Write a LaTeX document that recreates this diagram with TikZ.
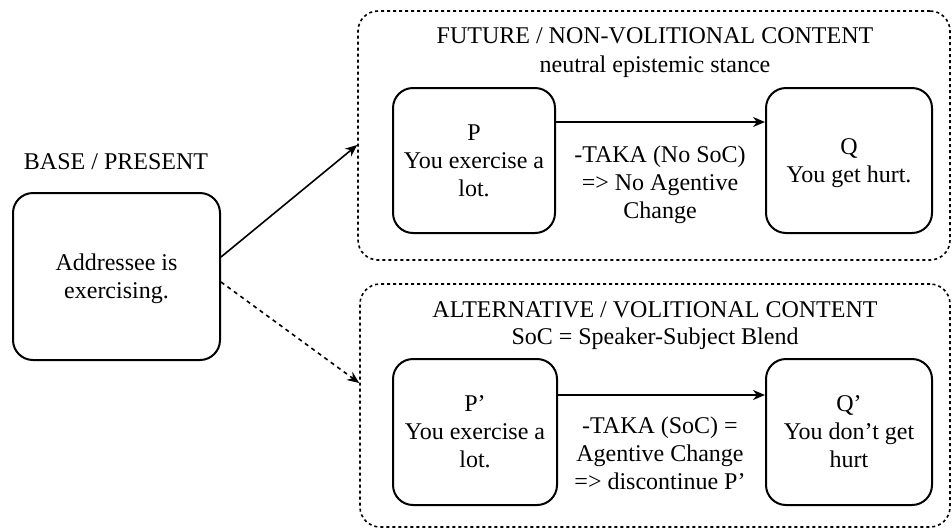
\documentclass[tikz,border=0pt]{standalone}
\usepackage{fontspec}
\setmainfont{Liberation Serif}
\usetikzlibrary{arrows.meta,positioning,backgrounds}

\begin{document}
\begin{tikzpicture}[x=0.5pt,y=-0.5pt]
    \tikzstyle{statebox}=[rectangle,rounded corners=10pt,draw,line width=1pt,%
    align=center,inner sep=2pt,text depth=-3pt,minimum height=72.5pt] %
    \tikzstyle{region}=[rectangle,rounded corners=10pt,draw,line width=0.8pt,%
    dash pattern=on 1.5pt off 1.5pt] %
    \tikzstyle{txt}=[align=center,inner sep=0pt,anchor=base] %
    \tikzstyle{flow}=[-{Stealth[length=6pt,width=5pt]},line width=0.8pt] %
    \tikzset{every node/.style={font=\fontsize{12}{14}\selectfont}}

    \useasboundingbox (0,0) rectangle (952,531);

    %% Base
    \node[statebox,minimum width=103.5pt,minimum height=83.5pt] (BASE) at (116.5,276.5)
        {Addressee is\\exercising.};
    \node[txt] (BASEL) at (116,169) {BASE / PRESENT};

    %% Future / non-volitional
    \node[region,minimum width=296pt,minimum height=124.5pt] (FUT) at (654,135.5) {};
    \node[txt] (FUTT) at (655,43) {FUTURE / NON-VOLITIONAL CONTENT};
    \node[txt] (FUTS) at (655,72) {neutral epistemic stance};
    \node[statebox,minimum width=81pt] (P) at (474,160.5) {P\\You exercise a\\lot.};
    \node[statebox,minimum width=83pt] (Q) at (849,160.5) {Q\\You get hurt.};
    %% base = last line
    \node[txt] (PQL) at (660,218) {-TAKA (No SoC)\\=> No Agentive\\Change};
    \draw[flow] ([yshift=19.25pt]P.east) -- ([yshift=19.25pt]Q.west);

    %% Alternative / volitional
    \node[region,minimum width=295pt,minimum height=121.5pt] (ALT) at (655,405.5) {};
    \node[txt] (ALTT) at (655,317) {ALTERNATIVE / VOLITIONAL CONTENT};
    \node[txt] (ALTS) at (655,344) {SoC = Speaker-Subject Blend};
    \node[statebox,minimum width=82pt,minimum height=73pt] (P2) at (475,432) {P’\\You exercise a\\lot.};
    \node[statebox,minimum width=83pt,minimum height=73pt] (Q2) at (849,432) {Q’\\You don’t get\\hurt};
    \node[txt] (PQL2) at (660,489) {-TAKA (SoC) =\\Agentive Change\\=> discontinue P’};
    \draw[flow] ([yshift=18.5pt]P2.east) -- ([yshift=18.5pt]Q2.west);

    %% from base
    \draw[flow] ([yshift=9.75pt]BASE.east) -- ([yshift=-4.75pt]FUT.west);
    \draw[flow,dash pattern=on 2pt off 2pt] ([yshift=-2.75pt]BASE.east) -- ([yshift=11.25pt]ALT.west);
\end{tikzpicture}
\end{document}
